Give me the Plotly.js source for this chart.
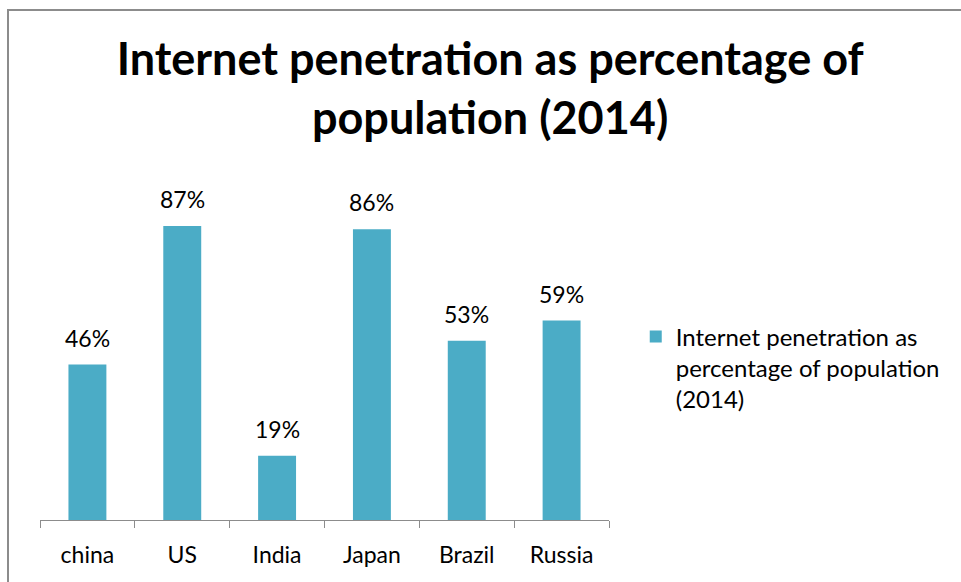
<!DOCTYPE html>
<html>
<head>
<meta charset="utf-8">
<script src="https://cdn.plot.ly/plotly-3.0.1.min.js"></script>
<style>
body{margin:0;padding:0;background:#fff;overflow:hidden;}
#frame{position:absolute;left:7px;top:9px;width:1000px;height:640px;border-left:2px solid #8c8c8c;border-top:2px solid #8c8c8c;}
#chart{position:absolute;left:0;top:0;width:961px;height:582px;}
</style>
</head>
<body>
<div id="frame"></div>
<div id="chart"></div>
<script>
var countries = ["china", "US", "India", "Japan", "Brazil", "Russia"];
var penetration = [46, 87, 19, 86, 53, 59];
var seriesName = "Internet penetration as<br>percentage of population<br>(2014)";
var chartTitle = "Internet penetration as percentage of<br>population (2014)";

var labels = penetration.map(function(v){ return v + "%"; });

var trace = {
  type: "bar",
  x: countries,
  y: penetration,
  name: seriesName,
  marker: {color: "#4BACC6"},
  showlegend: true,
  hoverinfo: "none"
};

var annotations = countries.map(function(c, i){
  return {x: c, y: penetration[i], xref: "x", yref: "y", text: labels[i],
    showarrow: false, yanchor: "bottom", yshift: 11,
    font: {family: "Lato, 'Open Sans', sans-serif", size: 23, color: "#000"}};
});

var layout = {
  width: 961, height: 582,
  paper_bgcolor: "rgba(0,0,0,0)", plot_bgcolor: "rgba(0,0,0,0)",
  margin: {l: 40, r: 352, t: 182, b: 62},
  bargap: 0.6,
  font: {family: "Lato, 'Open Sans', sans-serif", size: 23, color: "#000"},
  title: {text: chartTitle, x: 0.51, xref: "container", xanchor: "center",
    y: 1 - 75/582, yref: "container", yanchor: "top",
    font: {family: "Lato, sans-serif", size: 45, color: "#000", weight: "bold"}},
  xaxis: {showline: true, linecolor: "#8c8c8c", linewidth: 1, ticks: "outside",
    tickson: "boundaries", ticklen: 7, tickcolor: "#8c8c8c", showgrid: false,
    tickfont: {size: 23, color: "#000"}, ticklabelstandoff: 14, fixedrange: true},
  yaxis: {range: [0, 100], visible: false, showgrid: false, zeroline: false, fixedrange: true},
  legend: {x: 1.047, xanchor: "left", y: 0.608, yanchor: "top", valign: "top",
    font: {size: 24, color: "#000"}, itemwidth: 30, tracegroupgap: 0},
  annotations: annotations
};

Plotly.newPlot("chart", [trace], layout, {displayModeBar: false, staticPlot: true});
</script>
</body>
</html>
